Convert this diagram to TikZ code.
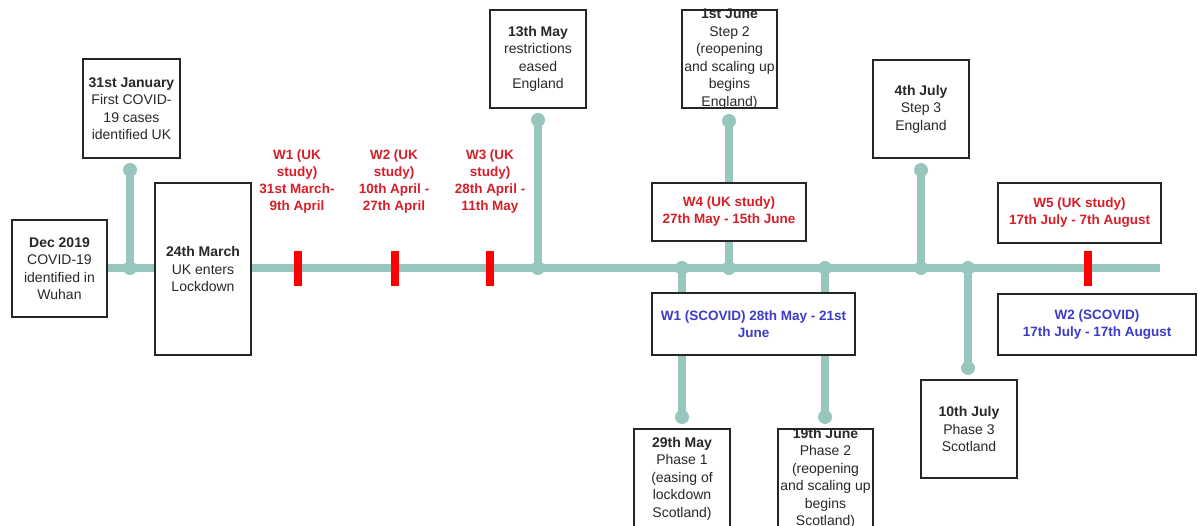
\documentclass[tikz,border=0pt]{standalone}
\usepackage{fontspec}
\setmainfont{Liberation Sans}
\definecolor{teal1}{RGB}{150,198,190}
\definecolor{redtxt}{RGB}{215,30,40}
\definecolor{bluetxt}{RGB}{60,60,200}
\definecolor{txtgray}{RGB}{40,40,40}
\tikzset{
  box/.style={draw=black!85, line width=1.3pt, fill=white, inner sep=0pt, rectangle},
  txt/.style={align=center, font=\fontsize{14}{17.5}\selectfont, text=txtgray, inner sep=0pt},
  wlab/.style={align=center, font=\fontsize{13.5}{17}\selectfont\bfseries, text=redtxt, inner sep=0pt},
  blab/.style={align=center, font=\fontsize{13.5}{16.5}\selectfont\bfseries, text=bluetxt, inner sep=0pt},
  tl/.style={draw=teal1, line width=7.5pt},
  dot/.style={circle, fill=teal1, minimum size=14pt, inner sep=0pt},
  redtick/.style={rectangle, fill=red, minimum width=8pt, minimum height=35pt, inner sep=0pt}
}
\begin{document}
\begin{tikzpicture}[x=1pt, y=-1pt]
\useasboundingbox (0,0) rectangle (1198,526);
% main line
\coordinate (L) at (108,268);
\coordinate (R) at (1160,268);
\draw[tl] (L) -- (R);
% junction and end dots
\node[dot] (jjan) at (130,268) {};
\node[dot] (ejan) at (130,170) {};
\node[dot] (jmay13) at (538,268) {};
\node[dot] (emay13) at (538,120) {};
\node[dot] (jjun1) at (729,268) {};
\node[dot] (ejun1) at (729,121) {};
\node[dot] (jjul4) at (921,268) {};
\node[dot] (ejul4) at (921,170) {};
\node[dot] (jmay29) at (682,268) {};
\node[dot] (emay29) at (682,417) {};
\node[dot] (jjun19) at (825,268) {};
\node[dot] (ejun19) at (825,417) {};
\node[dot] (jjul10) at (968,268) {};
\node[dot] (ejul10) at (968,368) {};
\draw[tl] (jjan.center) -- (ejan.center);
\draw[tl] (jmay13.center) -- (emay13.center);
\draw[tl] (jjun1.center) -- (ejun1.center);
\draw[tl] (jjul4.center) -- (ejul4.center);
\draw[tl] (jmay29.center) -- (emay29.center);
\draw[tl] (jjun19.center) -- (ejun19.center);
\draw[tl] (jjul10.center) -- (ejul10.center);
% red ticks
\node[redtick] (t1) at (298,268.5) {};
\node[redtick] (t2) at (395,268.5) {};
\node[redtick] (t3) at (490,268.5) {};
\node[redtick] (t5) at (1088,268.5) {};
% red labels
\node[wlab] (w1) at (297,182) {W1 (UK\\study)\\31st March-\\9th April};
\node[wlab] (w2) at (394,182) {W2 (UK\\study)\\10th April -\\27th April};
\node[wlab] (w3) at (490,182) {W3 (UK\\study)\\28th April -\\11th May};
% boxes
\node[box, minimum width=95pt, minimum height=97pt] (dec) at (59.5,268.5) {};
\node[txt] (dect) at (dec.center) {\textbf{Dec 2019}\\COVID-19\\identified in\\Wuhan};
\node[box, minimum width=97pt, minimum height=99pt] (jan) at (131.5,108.5) {};
\node[txt] (jant) at (jan.center) {\textbf{31st January}\\First COVID-\\19 cases\\identified UK};
\node[box, minimum width=96pt, minimum height=172pt] (mar) at (203,269) {};
\node[txt] (mart) at (mar.center) {\textbf{24th March}\\UK enters\\Lockdown};
\node[box, minimum width=96pt, minimum height=98pt] (may13) at (538,59) {};
\node[txt] (may13t) at (may13.center) {\textbf{13th May}\\restrictions\\eased\\England};
\node[box, minimum width=95pt, minimum height=98pt] (jun1) at (729.5,59) {};
\node[txt] (jun1t) at (jun1.center) {\textbf{1st June}\\Step 2\\(reopening\\and scaling up\\begins\\England)};
\node[box, minimum width=154pt, minimum height=58pt] (w4) at (729,212) {};
\node[wlab] (w4t) at (w4.center) {W4 (UK study)\\27th May - 15th June};
\node[box, minimum width=96pt, minimum height=98pt] (jul4) at (921,109) {};
\node[txt] (jul4t) at (jul4.center) {\textbf{4th July}\\Step 3\\England};
\node[box, minimum width=163pt, minimum height=60pt] (w5) at (1079.5,213) {};
\node[wlab] (w5t) at (w5.center) {W5 (UK study)\\17th July - 7th August};
\node[box, minimum width=198pt, minimum height=61pt] (w2s) at (1097,324.5) {};
\node[blab] (w2st) at (w2s.center) {W2 (SCOVID)\\17th July - 17th August};
\node[box, minimum width=203pt, minimum height=62pt] (w1s) at (753.5,324) {};
\node[blab] (w1st) at (w1s.center) {W1 (SCOVID) 28th May - 21st\\June};
\node[box, minimum width=96pt, minimum height=98pt] (jul10) at (969,429) {};
\node[txt] (jul10t) at (jul10.center) {\textbf{10th July}\\Phase 3\\Scotland};
\node[box, minimum width=96pt, minimum height=99pt] (may29) at (682,478.5) {};
\node[txt] (may29t) at (may29.center) {\textbf{29th May}\\Phase 1\\(easing of\\lockdown\\Scotland)};
\node[box, minimum width=95pt, minimum height=99pt] (jun19) at (825.5,478.5) {};
\node[txt] (jun19t) at (jun19.center) {\textbf{19th June}\\Phase 2\\(reopening\\and scaling up\\begins\\Scotland)};
\end{tikzpicture}
\end{document}
